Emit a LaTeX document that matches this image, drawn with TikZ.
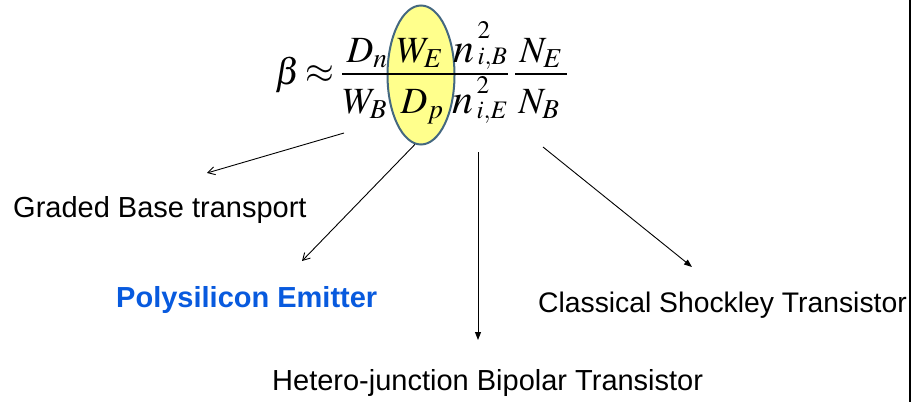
\documentclass[tikz,border=0pt]{standalone}
\usepackage{mathptmx}
\usepackage[no-math]{fontspec}
\setmainfont{Liberation Sans}
\usetikzlibrary{arrows.meta,shapes.geometric,backgrounds}
\definecolor{hlfill}{RGB}{255,255,140}
\definecolor{hlline}{RGB}{68,104,128}
\definecolor{polyblue}{RGB}{8,90,222}
\newcommand{\nsq}[3]{n\mkern1.5mu\rlap{\raisebox{#1}{$\scriptscriptstyle 2$}}\raisebox{#2}{$\scriptscriptstyle #3$}}
\begin{document}
\begin{tikzpicture}[x=1pt,y=-1pt,
  mth/.style={inner sep=0pt, anchor=base, font=\fontsize{37}{44}\selectfont},
  mthn/.style={inner sep=0pt, anchor=base, font=\fontsize{42}{48}\selectfont},
  fracbar/.style={line width=1.4pt},
  lbl/.style={inner sep=0pt, anchor=base west, font=\fontsize{29}{34}\selectfont},
  hl/.style={ellipse, draw=hlline, line width=2pt, fill=hlfill, inner sep=0pt},
  openarrow/.style={line width=0.9pt, -{Straight Barb[length=7pt,width=8pt]}},
  fillarrow/.style={line width=0.9pt, -{Triangle[length=8pt,width=6pt]}}]
\useasboundingbox (0,0) rectangle (915,402);
% highlight ellipse
\node[hl, minimum width=67pt, minimum height=139pt] (ell) at (421,75) {};
% formula
\node[mth, anchor=base west] (beta) at (275,84) {$\beta$};
\node[mth] (approx) at (320,83) {$\approx$};
\node[mth] (n1) at (367,62) {$D_{n}$};
\node[mth] (d1) at (365,113) {$W_{B}$};
\node[mth] (n2) at (420,62) {$W_{E}$};
\node[mth] (d2) at (422,113) {$D_{p}$};
\node[mthn] (n3) at (480,62) {$\nsq{24pt}{-2pt}{i,B}$};
\node[mthn] (d3) at (480,113) {$\nsq{20pt}{-5pt}{i,E}$};
\node[mth] (n4) at (541,62) {$N_{E}$};
\node[mth] (d4) at (539,113) {$N_{B}$};
\coordinate (b1l) at (342,74);
\coordinate (b1r) at (508,74);
\coordinate (b2l) at (515,74);
\coordinate (b2r) at (567,74);
\draw[fracbar] (b1l) -- (b1r);
\draw[fracbar] (b2l) -- (b2r);
% labels
\node[lbl] (graded) at (13,217) {Graded Base transport};
\node[lbl, font=\fontsize{29}{34}\selectfont\bfseries, text=polyblue] (poly) at (116,307) {Polysilicon Emitter};
\node[lbl, font=\fontsize{28.3}{34}\selectfont] (shock) at (538,312) {Classical Shockley Transistor};
\node[lbl] (hetero) at (272,390) {Hetero-junction Bipolar Transistor};
% connector ends
\coordinate (s1) at (344,133);
\coordinate (e1) at (207,173);
\coordinate (e2) at (302,261);
\coordinate (s3) at (478,152);
\coordinate (e3) at (478,340);
\coordinate (s4) at (543,147);
\coordinate (e4) at (692,267);
\draw[openarrow] (s1) -- (e1);
\draw[openarrow] (ell.265) -- (e2);
\draw[fillarrow] (s3) -- (e3);
\draw[fillarrow] (s4) -- (e4);
% right border line
\coordinate (bt) at (910,0);
\coordinate (bb) at (910,402);
\draw[line width=2.5pt] (bt) -- (bb);
\end{tikzpicture}
\end{document}
